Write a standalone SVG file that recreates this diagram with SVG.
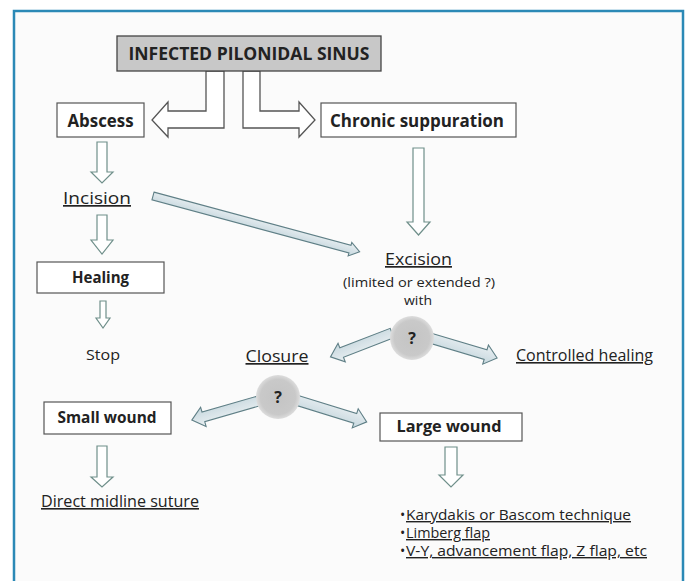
<svg xmlns="http://www.w3.org/2000/svg" width="691" height="581" viewBox="0 0 691 581">
<defs>
<style>
text{font-family:"Open Sans","Liberation Sans",sans-serif;fill:#222}
.b{font-weight:bold}
.c{text-anchor:middle}
.u{text-decoration:underline}
.box{fill:#fff;stroke:#555;stroke-width:1.2}
.down{fill:#fff;stroke:#6f8f8a;stroke-width:1.2}
.diag{fill:url(#ag);stroke:#5f7f86;stroke-width:1.1}
.split{fill:#fff;stroke:#555;stroke-width:1.3}
.li{font-size:14px}
</style>
<linearGradient id="ag" x1="0" y1="0" x2="0" y2="1">
<stop offset="0" stop-color="#e9f0f2"/>
<stop offset="0.5" stop-color="#d8e3e8"/>
<stop offset="1" stop-color="#c4d7dd"/>
</linearGradient>
<radialGradient id="cg" cx="0.5" cy="0.5" r="0.5">
<stop offset="0" stop-color="#c4c4c4"/>
<stop offset="0.8" stop-color="#c9c9c9"/>
<stop offset="1" stop-color="#dddddd"/>
</radialGradient>
</defs>
<rect x="0" y="0" width="691" height="581" fill="#fff"/>
<rect x="14" y="11" width="669" height="590" fill="#fbfbfb" stroke="#2b89b6" stroke-width="2.5"/>

<g id="connectors">
<path class="split" d="M206,71 V111 H168 V102 L152,120 L168,137 V128 H224 V71 Z"/>
<path class="split" d="M260,71 V111 H299 V102 L315,120 L299,137 V128 H243 V71 Z"/>
<path class="down" d="M97,142 H107 V172 H113 L102,183 L91,172 H97 Z"/>
<path class="down" d="M97,215 H107 V240 H113 L102,254 L91,240 H97 Z"/>
<path class="down" d="M100,301 H106 V318 H110 L103,328 L96,318 H100 Z"/>
<path class="down" d="M413,148 H424 V222 H430 L418.5,235 L407,222 H413 Z"/>
<path class="down" d="M97,446 H107 V477 H113 L102,487 L91,477 H97 Z"/>
<path class="down" d="M445,447 H457 V475 H463 L451,487 L439,475 H445 Z"/>
<path class="diag" transform="translate(153,196) rotate(15.1)" d="M0,-4 H204 V-7 L214,0 L204,7 V4 H0 Z"/>
<path class="diag" transform="translate(392,333) rotate(158.8)" d="M0,-5 H54 V-10 L66,0 L54,10 V5 H0 Z"/>
<path class="diag" transform="translate(430,338) rotate(16.6)" d="M0,-5 H58 V-10 L70,0 L58,10 V5 H0 Z"/>
<path class="diag" transform="translate(262,400) rotate(164)" d="M0,-5 H61 V-10 L73,0 L61,10 V5 H0 Z"/>
<path class="diag" transform="translate(296,400) rotate(17.2)" d="M0,-5 H62 V-10 L74,0 L62,10 V5 H0 Z"/>
</g>

<g id="title">
<rect x="117" y="36" width="264" height="35" fill="#c8c8c8" stroke="#444" stroke-width="1.3"/>
<text class="b c" x="249" y="60" font-size="17" textLength="241" lengthAdjust="spacingAndGlyphs">INFECTED PILONIDAL SINUS</text>
</g>
<g id="abscess">
<rect class="box" x="57" y="103" width="87" height="34"/>
<text class="b c" x="100.5" y="127" font-size="17" textLength="66" lengthAdjust="spacingAndGlyphs">Abscess</text>
</g>
<g id="chronic">
<rect class="box" x="321" y="103" width="195" height="34"/>
<text class="b c" x="417" y="127" font-size="17" textLength="174" lengthAdjust="spacingAndGlyphs">Chronic suppuration</text>
</g>
<g id="incision">
<text class="c u" x="97" y="204" font-size="17" textLength="68" lengthAdjust="spacingAndGlyphs">Incision</text>
</g>
<g id="healing">
<rect class="box" x="37" y="262" width="127" height="31"/>
<text class="b c" x="100.5" y="283" font-size="16" textLength="57" lengthAdjust="spacingAndGlyphs">Healing</text>
</g>
<g id="stop">
<text class="c" x="103" y="360" font-size="15" textLength="34" lengthAdjust="spacingAndGlyphs">Stop</text>
</g>
<g id="excision">
<text class="c u" x="418.5" y="265" font-size="17" textLength="67" lengthAdjust="spacingAndGlyphs">Excision</text>
<text class="c" x="419" y="287" font-size="13" textLength="152" lengthAdjust="spacingAndGlyphs">(limited or extended ?)</text>
<text class="c" x="418" y="305" font-size="13" textLength="28" lengthAdjust="spacingAndGlyphs">with</text>
</g>
<g id="q1">
<circle cx="412" cy="338" r="22" fill="url(#cg)"/>
<text class="b c" x="412" y="344" font-size="16">?</text>
</g>
<g id="closure">
<text class="c u" x="277" y="362" font-size="17" textLength="63" lengthAdjust="spacingAndGlyphs">Closure</text>
</g>
<g id="controlled">
<text class="u" x="516" y="361" font-size="16" textLength="137" lengthAdjust="spacingAndGlyphs">Controlled healing</text>
</g>
<g id="q2">
<circle cx="278" cy="397" r="22" fill="url(#cg)"/>
<text class="b c" x="278" y="403" font-size="16">?</text>
</g>
<g id="small">
<rect class="box" x="44" y="402" width="127" height="32"/>
<text class="b c" x="107" y="423" font-size="16" textLength="99" lengthAdjust="spacingAndGlyphs">Small wound</text>
</g>
<g id="large">
<rect class="box" x="380" y="413" width="142" height="28"/>
<text class="b c" x="449" y="432" font-size="16" textLength="105" lengthAdjust="spacingAndGlyphs">Large wound</text>
</g>
<g id="direct">
<text class="u" x="41" y="507" font-size="16" textLength="158" lengthAdjust="spacingAndGlyphs">Direct midline suture</text>
</g>
<g id="list">
<text class="li" x="400" y="520">•<tspan class="u" x="406" textLength="225" lengthAdjust="spacingAndGlyphs">Karydakis or Bascom technique</tspan></text>
<text class="li" x="400" y="538">•<tspan class="u" x="406" textLength="84" lengthAdjust="spacingAndGlyphs">Limberg flap</tspan></text>
<text class="li" x="400" y="556">•<tspan class="u" x="406" textLength="241" lengthAdjust="spacingAndGlyphs">V-Y, advancement flap, Z flap, etc</tspan></text>
</g>
</svg>
